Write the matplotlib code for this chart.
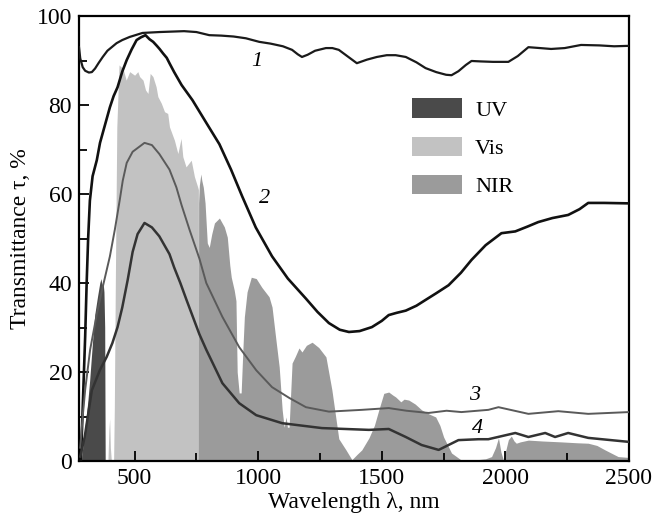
import matplotlib
matplotlib.use('Agg')
import matplotlib.pyplot as plt
import matplotlib.ticker as mticker
from matplotlib.patches import Patch

plt.rcParams.update({
    'font.family': ['Liberation Serif', 'DejaVu Serif'],
    'font.size': 17,
})

# --- spectral bands (solar irradiance shapes, in % scale) ---
uv_x = [285, 290, 300, 310, 318, 330, 339, 350, 359, 364, 368, 372, 376, 379, 381]
uv_y = [0, 3, 8, 13, 18, 27, 33, 37, 40, 41, 39.5, 40.5, 38, 30, 0]

vis_x = [392, 396, 399, 402, 406, 415, 418, 422, 428, 437, 453, 466, 480, 500, 513, 520,
         534, 544, 554, 563, 574, 587, 594, 608, 621, 634, 641, 661, 675, 688, 695,
         708, 729, 742, 755, 758, 759]
vis_y = [0, 7, 9.5, 3, 0, 0, 12, 40, 75, 89.0, 88.2, 85.6, 87.5, 86.7, 87.5, 86.4,
         85.6, 83.4, 82.6, 87.1, 86.4, 84.1, 81.9, 80.4, 78.5, 78.1, 75.1, 72.1, 69.1, 72.5, 68.4,
         66.1, 67.6, 63.9, 61.6, 61, 0]

nir_x = [758, 759, 762, 768, 772, 778, 785, 794, 802, 812, 823, 843, 863, 875, 885, 891,
         903, 910, 915, 923, 931, 938, 944, 955, 972, 992, 1015, 1044, 1056, 1070, 1085,
         1097, 1105, 1113, 1118, 1125, 1137, 1150, 1165, 1177, 1195, 1218, 1245, 1274,
         1298, 1326, 1355, 1379, 1400, 1419, 1448, 1470, 1488, 1508, 1528, 1545, 1556,
         1577, 1590, 1609, 1635, 1661, 1690, 1718, 1735, 1750, 1782, 1822, 1870, 1920,
         1944, 1960, 1972, 1982, 1992, 2002, 2012, 2024, 2035, 2044, 2060, 2093, 2150,
         2226, 2290, 2335, 2370, 2403, 2456, 2500]
nir_y = [0, 58, 62, 64.5, 63, 61.5, 58, 49, 48, 51, 53.5, 54.6, 52.6, 50.3, 44, 41.3,
         38.4, 36, 20, 15.3, 15.3, 25, 32.4, 38, 41.3, 41, 39, 36.9, 34.6, 28, 21.1,
         11.5, 7.6, 9.9, 7.6, 7.6, 22, 23.5, 25.4, 24.5, 26, 26.7, 25.5, 23.4,
         16, 5, 2.5, 0.3, 1.5, 2.5, 5.2, 8, 11.5, 15.2, 15.5, 14.8, 14.4,
         13.3, 13.9, 13.7, 12.8, 11.5, 10.6, 9.9, 8, 5.4, 1.8, 0.2, 0.2, 0.5,
         1, 3, 5.2, 2, 0.2, 2.5, 4.8, 5.6, 4.5, 4, 4.3, 4.7, 4.5,
         4.3, 4.1, 4, 3.5, 2.5, 1, 0.8]

# --- transmittance curves ---
c1_x = [275, 280, 290, 300, 315, 327, 340, 355, 371, 390, 427, 450, 480, 532, 600, 650,
        700, 750, 802, 850, 900, 950, 1004, 1050, 1100, 1137, 1160, 1177, 1200, 1230,
        1274, 1300, 1326, 1360, 1399, 1440, 1480, 1520, 1556, 1597, 1640, 1677, 1720,
        1760, 1782, 1810, 1840, 1863, 1900, 1950, 2012, 2050, 2093, 2140, 2185, 2240,
        2306, 2380, 2440, 2500]
c1_y = [93, 90.5, 88.5, 87.7, 87.3, 87.4, 88.2, 89.5, 90.8, 92.2, 93.9, 94.6, 95.3, 96.2, 96.4, 96.5,
        96.6, 96.4, 95.7, 95.6, 95.4, 95.0, 94.2, 93.8, 93.2, 92.4, 91.4, 90.8, 91.3, 92.2,
        92.8, 92.8, 92.4, 91.0, 89.4, 90.2, 90.8, 91.2, 91.2, 90.8, 89.6, 88.3, 87.4,
        86.8, 86.7, 87.6, 89.0, 89.9, 89.8, 89.7, 89.7, 91.0, 93.0, 92.8, 92.6, 92.8,
        93.5, 93.4, 93.2, 93.3]

c2_x = [283, 290, 300, 306, 312, 319, 330, 347, 360, 371, 385, 400, 415, 431, 450, 468,
        488, 508, 525, 544, 560, 575, 590, 601, 615, 630, 641, 660, 690, 734, 790, 843,
        890, 935, 990, 1056, 1120, 1193, 1240, 1286, 1330, 1367, 1410, 1460, 1500, 1528,
        1560, 1597, 1640, 1677, 1720, 1770, 1820, 1863, 1920, 1984, 2040, 2090, 2133,
        2190, 2254, 2300, 2335, 2400, 2500]
c2_y = [0, 12, 28, 40, 50, 58.5, 64, 67.6, 71.5, 73.7, 76.5, 79.5, 82, 84, 87.5, 90.1,
        92.5, 94.6, 95.2, 95.7, 94.8, 94.2, 93.3, 92.6, 91.6, 90.6, 89.4, 87.4, 84.5, 81.1, 76, 71.2,
        65.5, 59.5, 52.5, 46, 41, 36.5, 33.5, 31, 29.5, 29.0, 29.2, 30.1, 31.5, 32.8,
        33.3, 33.8, 34.9, 36.2, 37.7, 39.5, 42.3, 45.2, 48.5, 51.2, 51.6, 52.7, 53.7,
        54.6, 55.3, 56.6, 58.0, 58.0, 57.9]

c3_x = [280, 290, 300, 320, 347, 371, 400, 420, 440, 452, 468, 492, 540, 570, 600, 641,
        669, 690, 722, 762, 790, 855, 923, 992, 1056, 1125, 1193, 1286, 1419, 1528, 1600,
        1689, 1762, 1822, 1931, 1972, 2093, 2214, 2335, 2500]
c3_y = [3, 10, 16, 25, 33, 39.1, 46, 52, 58.7, 63, 67, 69.5, 71.5, 71, 69, 65.5,
        61.5, 57.5, 52, 45.5, 40, 32.4, 25.6, 20.4, 16.6, 14.2, 12.1, 11.1, 11.5, 11.9, 11.3,
        10.8, 11.3, 11, 11.5, 12.1, 10.6, 11.2, 10.6, 11]

c4_x = [280, 298, 327, 360, 387, 410, 431, 450, 472, 492, 512, 540, 570, 600, 641, 660, 685,
        710, 762, 790, 855, 923, 992, 1097, 1258, 1448, 1528, 1597, 1661, 1730, 1770,
        1810, 1891, 1931, 2040, 2093, 2161, 2201, 2254, 2335, 2500]
c4_y = [1, 5.4, 15.9, 20.5, 23.4, 26.5, 30.1, 34.5, 40.7, 47, 51, 53.5, 52.5, 50.5, 46.5, 43.5, 40,
        36.2, 28.5, 25, 17.5, 13, 10.3, 8.5, 7.4, 7, 7.2, 5.4, 3.6, 2.5, 3.6,
        4.7, 4.9, 4.9, 6.3, 5.4, 6.3, 5.4, 6.3, 5.2, 4.3]

band_labels = ['UV', 'Vis', 'NIR']
band_colors = ['#4a4a4a', '#c2c2c2', '#9b9b9b']

curve_labels = ['1', '2', '3', '4']
label_pos_x = [996, 1024, 1875, 1887]
label_pos_y = [89.7, 59, 14.8, 7.4]

fig = plt.figure(figsize=(6.55, 5.29), dpi=100)
ax = fig.add_axes([0.1206, 0.1285, 0.8397, 0.8412])

ax.fill_between(uv_x, uv_y, color=band_colors[0], lw=0, zorder=1)
ax.fill_between(vis_x, vis_y, color=band_colors[1], lw=0, zorder=1)
ax.fill_between(nir_x, nir_y, color=band_colors[2], lw=0, zorder=1)

ax.plot(c1_x, c1_y, color='#1a1a1a', lw=1.6, zorder=3)
ax.plot(c2_x, c2_y, color='#111111', lw=1.9, zorder=3)
ax.plot(c3_x, c3_y, color='#5a5a5a', lw=1.4, zorder=3)
ax.plot(c4_x, c4_y, color='#333333', lw=1.8, zorder=3)

for lab, lx, ly in zip(curve_labels, label_pos_x, label_pos_y):
    ax.text(lx, ly, lab, fontsize=16, style='italic', ha='center', va='center', zorder=4)

handles = [Patch(facecolor=c, edgecolor='none') for c in band_colors]
ax.legend(handles, band_labels, loc='upper left', bbox_to_anchor=(0.605, 0.815),
          frameon=False, fontsize=16, handlelength=2.25, handleheight=0.95,
          labelspacing=0.72, handletextpad=0.6, borderpad=0, borderaxespad=0)

ax.set_xlim(275, 2500)
ax.set_ylim(0, 100)
ax.xaxis.set_major_locator(mticker.MultipleLocator(500))
ax.xaxis.set_minor_locator(mticker.MultipleLocator(250))
ax.yaxis.set_major_locator(mticker.MultipleLocator(20))
ax.yaxis.set_minor_locator(mticker.MultipleLocator(10))
ax.tick_params(which='both', direction='in', top=False, right=False, width=1.3, labelsize=17)
ax.tick_params(which='major', length=7, pad=5)
ax.tick_params(which='minor', length=6)
for sp in ax.spines.values():
    sp.set_linewidth(1.6)

ax.set_xlabel('Wavelength λ, nm', fontsize=17, labelpad=2)
ax.set_ylabel('Transmittance τ, %', fontsize=17, labelpad=4)

fig.savefig('out.png', dpi=100, facecolor='white')
